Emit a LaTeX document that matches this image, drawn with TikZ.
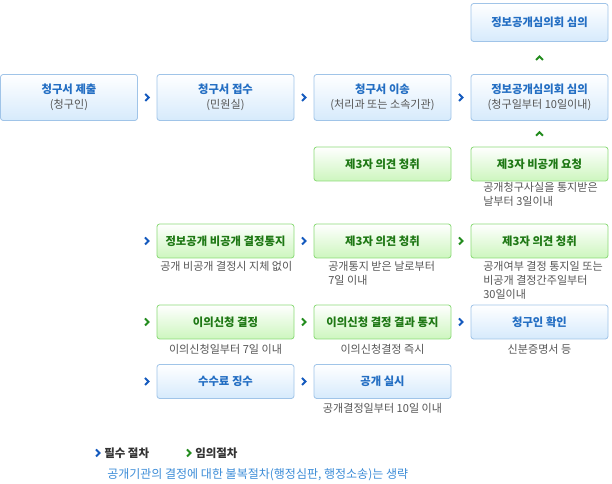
\documentclass[tikz,border=0pt]{standalone}
\usepackage{fontspec}
\setmainfont{Noto Sans CJK KR}
\usetikzlibrary{calc}
\definecolor{bblue}{RGB}{160,196,232}
\definecolor{fblue}{RGB}{214,234,252}
\definecolor{bgreen}{RGB}{140,218,120}
\definecolor{fgreen}{RGB}{205,246,190}
\definecolor{tblue}{RGB}{35,110,195}
\definecolor{tgreen}{RGB}{30,120,20}
\definecolor{tgray}{RGB}{85,85,85}
\definecolor{foot}{RGB}{60,140,215}
\definecolor{ablue}{RGB}{20,90,190}
\definecolor{agreen}{RGB}{35,140,30}
\tikzset{
  x=0.75pt, y=-0.75pt,
  basebox/.style={rectangle, rounded corners=2pt, line width=0.6pt, minimum width=102.75pt, minimum height=25.5pt, inner sep=0pt, align=center, font=\bfseries\fontsize{8.5}{11.25}\selectfont},
  bluebox/.style={basebox, draw=bblue, top color=white, bottom color=fblue, text=tblue},
  greenbox/.style={basebox, draw=bgreen, top color=white, bottom color=fgreen, text=tgreen},
  tall/.style={minimum height=34.5pt},
  note/.style={inner sep=0pt, text=tgray, align=left, font=\fontsize{8.3}{10.5}\selectfont},
  chevb/.pic={\draw[ablue, line width=1.5pt, line cap=butt, line join=miter] (-2,-3.5) -- (1.5,0) -- (-2,3.5);},
  chevg/.pic={\draw[agreen, line width=1.5pt, line cap=butt, line join=miter] (-2,-3.5) -- (1.5,0) -- (-2,3.5);},
  upg/.pic={\draw[agreen, line width=1.5pt, line cap=butt, line join=miter] (-3.5,2) -- (0,-1.5) -- (3.5,2);},
}
\newcommand{\sub}[1]{\\{\mdseries\fontsize{8.3}{11.25}\selectfont\color{tgray}#1}}
\begin{document}
\begin{tikzpicture}
\useasboundingbox (0,0) rectangle (612,484);
% top
\node[bluebox, minimum height=28.5pt] (t0) at (539.5,22.5) {정보공개심의회 심의};
% row 1
\node[bluebox, tall] (r1c1) at (69,97.5) {청구서 제출\sub{(청구인)}};
\node[bluebox, tall] (r1c2) at (225.5,97.5) {청구서 접수\sub{(민원실)}};
\node[bluebox, tall] (r1c3) at (382.5,97.5) {청구서 이송\sub{(처리과 또는 소속기관)}};
\node[bluebox, tall] (r1c4) at (539.5,97.5) {정보공개심의회 심의\sub{(청구일부터 10일이내)}};
% row 2
\node[greenbox] (r2c3) at (382.5,164) {제3자 의견 청취};
\node[greenbox] (r2c4) at (539.5,164) {제3자 비공개 요청};
% row 3
\node[greenbox] (r3c2) at (225.5,241) {정보공개 비공개 결정통지};
\node[greenbox] (r3c3) at (382.5,241) {제3자 의견 청취};
\node[greenbox] (r3c4) at (539.5,241) {제3자 의견 청취};
% row 4
\node[greenbox] (r4c2) at (225.5,322) {이의신청 결정};
\node[greenbox] (r4c3) at (382.5,322) {이의신청 결정 결과 통지};
\node[bluebox] (r4c4) at (539.5,322) {청구인 확인};
% row 5
\node[bluebox] (r5c2) at (225.5,381.5) {수수료 징수};
\node[bluebox] (r5c3) at (382.5,381.5) {공개 실시};
% notes
\node[note, anchor=north west] (n24) at (483,182) {공개청구사실을 통지받은\\날부터 3일이내};
\node[note, anchor=north west] (n32) at (160,261) {공개 비공개 결정시 지체 없이};
\node[note, anchor=north west] (n33) at (328,261) {공개통지 받은 날로부터\\7일 이내};
\node[note, anchor=north west] (n34) at (483,261) {공개여부 결정 통지일 또는\\비공개 결정간주일부터\\30일이내};
\node[note, anchor=north] (n42) at (r4c2.south |- 0,344) {이의신청일부터 7일 이내};
\node[note, anchor=north] (n43) at (r4c3.south |- 0,344) {이의신청결정 즉시};
\node[note, anchor=north] (n44) at (r4c4.south |- 0,344) {신분증명서 등};
\node[note, anchor=north] (n53) at (r5c3.south |- 0,403) {공개결정일부터 10일 이내};
% connectors (chevrons)
\pic at ($(r1c1.east)!0.5!(r1c2.west)$) {chevb};
\pic at ($(r1c2.east)!0.5!(r1c3.west)$) {chevb};
\pic at ($(r1c3.east)!0.5!(r1c4.west)$) {chevb};
\pic at ($(r1c4.north)!0.5!(t0.south)$) {upg};
\pic at ($(r2c4.north)!0.5!(r1c4.south)$) {upg};
\coordinate (e3) at (147,241);
\coordinate (e4) at (147,322);
\coordinate (e5) at (147,381.5);
\pic at (e3) {chevb};
\pic at ($(r3c2.east)!0.5!(r3c3.west)$) {chevb};
\pic at ($(r3c3.east)!0.5!(r3c4.west)$) {chevg};
\pic at (e4) {chevg};
\pic at ($(r4c2.east)!0.5!(r4c3.west)$) {chevg};
\pic at ($(r4c3.east)!0.5!(r4c4.west)$) {chevb};
\pic at (e5) {chevb};
\pic at ($(r5c2.east)!0.5!(r5c3.west)$) {chevb};
% legend
\coordinate (l1) at (98,453);
\coordinate (l2) at (189,453);
\pic at (l1) {chevb};
\pic at (l2) {chevg};
\node[anchor=west, inner sep=0pt, font=\bfseries\fontsize{8.6}{10}\selectfont, text=black!80] (lt1) at (104,453) {필수 절차};
\node[anchor=west, inner sep=0pt, font=\bfseries\fontsize{8.6}{10}\selectfont, text=black!80] (lt2) at (195,453) {임의절차};
\node[anchor=west, inner sep=0pt, font=\fontsize{9}{10}\selectfont, text=foot] (ft) at (107,475) {공개기관의 결정에 대한 불복절차(행정심판, 행정소송)는 생략};
\end{tikzpicture}
\end{document}
